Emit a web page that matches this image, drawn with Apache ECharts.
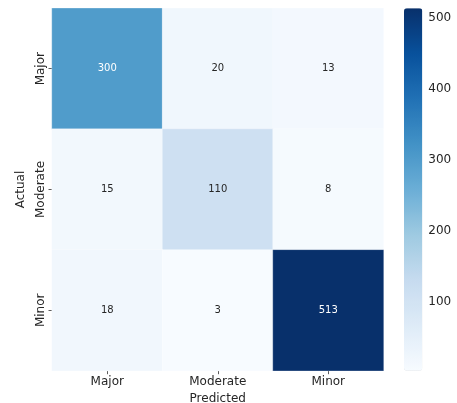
<!DOCTYPE html>
<html><head><meta charset="utf-8">
<script src="https://cdn.jsdelivr.net/npm/echarts@6/dist/echarts.min.js"></script>
<style>html,body{margin:0;padding:0;background:#fff}#c{width:457px;height:403px}</style>
</head><body><div id="c"></div>
<script>
const predictedLabels = ['Major', 'Moderate', 'Minor'];
const actualLabels = ['Major', 'Moderate', 'Minor'];
const rowMajor = [300, 20, 13];
const rowModerate = [15, 110, 8];
const rowMinor = [18, 3, 513];
const colorbarTicks = [100, 200, 300, 400, 500];
const vMin = 3, vMax = 513;

const blues = ['#f7fbff','#deebf7','#c6dbef','#9ecae1','#6baed6','#4292c6','#2171b5','#08519c','#08306b'];
const rows = [rowMajor, rowModerate, rowMinor];
const data = [];
rows.forEach((row, r) => row.forEach((v, c) => {
  const t = (v - vMin) / (vMax - vMin);
  data.push({ value: [c, r, v], label: { color: t > 0.5 ? '#ffffff' : '#262626' } });
}));

const chart = echarts.init(document.getElementById('c'), null, { renderer: 'canvas' });
const font = 'DejaVu Sans';
chart.setOption({
  animation: false,
  textStyle: { fontFamily: font },
  grid: [
    { left: 52, top: 8.3, width: 331.5, height: 362.4, outerBoundsMode: 'none', containLabel: false },
    { left: 404, top: 8.3, width: 18.3, height: 362.4, outerBoundsMode: 'none', containLabel: false }
  ],
  xAxis: [
    { type: 'category', gridIndex: 0, data: predictedLabels,
      name: 'Predicted', nameLocation: 'middle', nameGap: 20,
      nameTextStyle: { fontFamily: font, fontSize: 12, color: '#262626' },
      axisLine: { show: false },
      axisTick: { show: true, alignWithLabel: true, length: 3.5, lineStyle: { color: '#333', width: 0.8 } },
      axisLabel: { fontFamily: font, fontSize: 12, color: '#262626', margin: 5 },
      splitLine: { show: false } },
    { type: 'value', gridIndex: 1, show: false, min: 0, max: 1 }
  ],
  yAxis: [
    { type: 'category', gridIndex: 0, data: actualLabels, inverse: true,
      name: 'Actual', nameLocation: 'middle', nameGap: 22, nameRotate: 90,
      nameTextStyle: { fontFamily: font, fontSize: 12, color: '#262626' },
      axisLine: { show: false },
      axisTick: { show: true, alignWithLabel: true, length: 3.5, lineStyle: { color: '#333', width: 0.8 } },
      axisLabel: { fontFamily: font, fontSize: 12, color: '#262626', rotate: 90, margin: 5 },
      splitLine: { show: false } },
    { type: 'value', gridIndex: 1, position: 'right', min: vMin, max: vMax,
      axisLine: { show: false },
      axisTick: { show: true, length: 3.5, customValues: colorbarTicks, lineStyle: { color: '#333', width: 0.8 } },
      axisLabel: { fontFamily: font, fontSize: 12, color: '#262626', margin: 6, customValues: colorbarTicks },
      splitLine: { show: false } }
  ],
  visualMap: {
    type: 'continuous', min: vMin, max: vMax, calculable: false,
    seriesIndex: 0, dimension: 2,
    orient: 'vertical', left: 404, top: 8.3, padding: 0,
    itemWidth: 18.3, itemHeight: 362.4,
    text: null, showLabel: false,
    inRange: { color: blues }
  },
  series: [{
    type: 'heatmap', xAxisIndex: 0, yAxisIndex: 0, data: data,
    label: { show: true, fontFamily: font, fontSize: 10 },
    itemStyle: { borderColor: 'rgba(255,255,255,0.45)', borderWidth: 0.6 },
    emphasis: { disabled: true }
  }]
});
</script></body></html>
